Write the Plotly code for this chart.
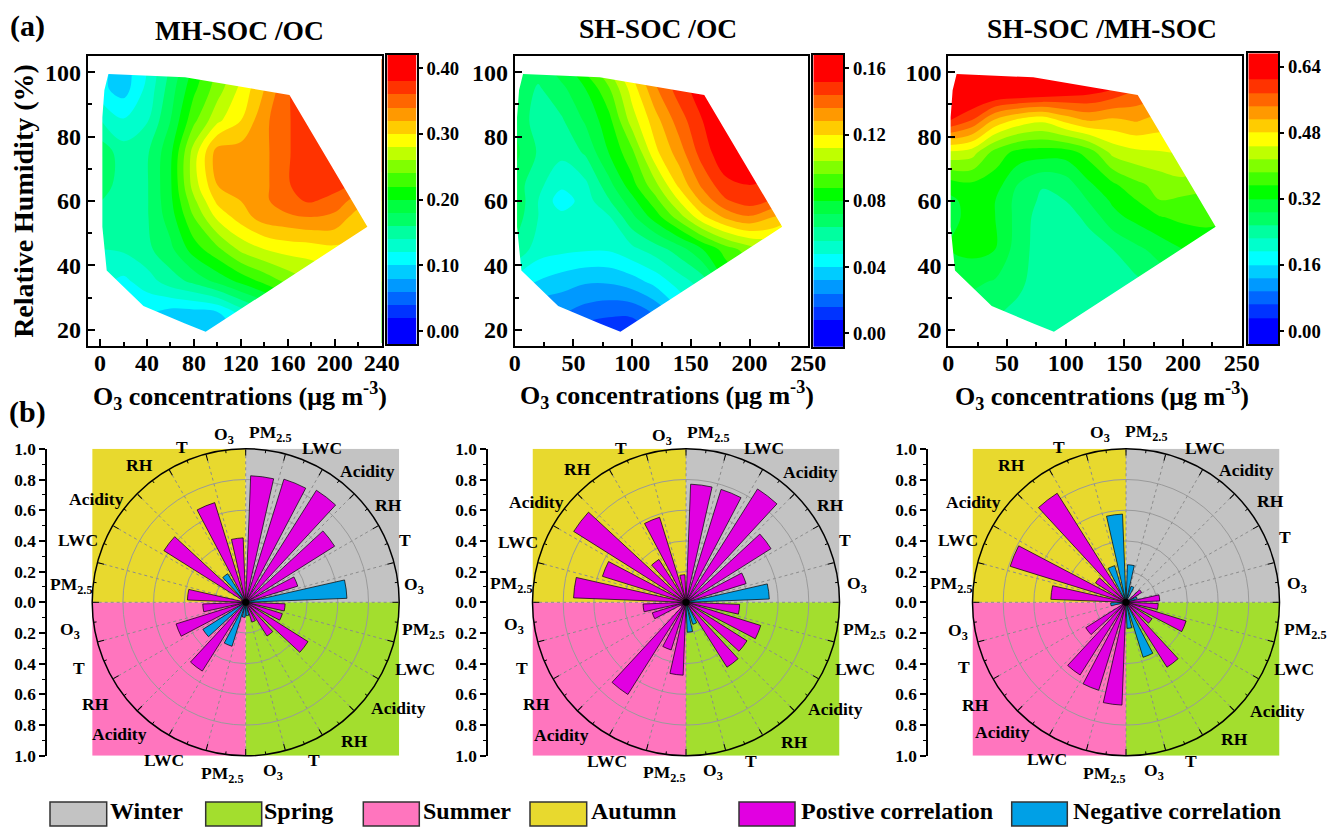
import plotly.graph_objects as go

W, H = 1328, 827
FONT = "Liberation Serif"

# ---------- contour data (panel a) ----------
O3_GRID = [1, 20, 40, 60, 80, 100, 120, 140, 160, 180, 200, 220, 240]
RH_GRID = [16, 25, 35, 45, 55, 60, 65, 75, 85, 95, 104]
MH_OC = [
    [.10, .09, .09, .08, .075, .08, .10, .13, .16, .19, .21, .23, .24],
    [.11, .10, .10, .09, .09, .095, .125, .15, .18, .21, .23, .25, .26],
    [.125, .115, .13, .15, .165, .185, .205, .225, .245, .26, .27, .28, .28],
    [.14, .143, .155, .175, .21, .235, .265, .28, .288, .29, .295, .295, .295],
    [.15, .148, .158, .19, .24, .285, .31, .33, .335, .34, .335, .31, .30],
    [.16, .15, .158, .195, .255, .305, .32, .335, .356, .362, .352, .33, .32],
    [.17, .15, .158, .197, .27, .32, .325, .335, .358, .375, .368, .355, .35],
    [.172, .15, .157, .195, .27, .33, .33, .335, .358, .375, .375, .375, .375],
    [.14, .122, .138, .18, .235, .275, .30, .335, .358, .375, .375, .375, .375],
    [.105, .09, .125, .17, .215, .25, .285, .32, .358, .375, .375, .375, .375],
    [.11, .09, .12, .16, .20, .24, .27, .31, .35, .375, .375, .375, .375],
]
SH_OC = [
    [.02, .015, .01, .006, .005, .006, .015, .03, .04, .055, .065, .075, .08],
    [.03, .025, .024, .02, .0175, .0175, .025, .038, .05, .065, .075, .085, .09],
    [.045, .0395, .036, .033, .033, .0365, .043, .052, .06, .08, .09, .10, .10],
    [.062, .052, .05, .049, .049, .054, .06, .068, .08, .092, .10, .105, .11],
    [.068, .056, .051, .05, .055, .07, .084, .10, .118, .13, .135, .128, .12],
    [.07, .056, .043, .052, .063, .077, .093, .112, .13, .143, .148, .143, .14],
    [.068, .058, .05, .054, .069, .085, .102, .122, .138, .15, .152, .15, .15],
    [.074, .063, .058, .065, .08, .094, .118, .132, .148, .158, .16, .16, .16],
    [.07, .06, .063, .073, .085, .108, .125, .14, .152, .158, .165, .165, .165],
    [.07, .063, .07, .08, .095, .116, .135, .148, .157, .165, .165, .165, .165],
    [.072, .07, .08, .095, .11, .125, .14, .15, .16, .165, .165, .165, .165],
]
SH_MH = [
    [.27, .26, .25, .24, .23, .23, .23, .23, .235, .24, .25, .25, .25],
    [.28, .27, .26, .245, .235, .23, .235, .235, .24, .25, .26, .27, .27],
    [.30, .295, .285, .265, .235, .23, .235, .24, .25, .27, .29, .30, .30],
    [.32, .33, .32, .27, .24, .235, .238, .256, .28, .30, .32, .335, .335],
    [.31, .33, .32, .275, .24, .24, .266, .31, .33, .35, .36, .36, .355],
    [.31, .335, .32, .275, .25, .256, .29, .325, .35, .383, .375, .37, .365],
    [.335, .345, .335, .285, .258, .27, .314, .345, .375, .395, .405, .395, .39],
    [.44, .43, .37, .34, .335, .335, .365, .425, .44, .445, .45, .43, .42],
    [.61, .575, .505, .47, .455, .49, .515, .505, .515, .50, .50, .49, .48],
    [.66, .67, .67, .67, .665, .645, .63, .61, .58, .56, .54, .53, .52],
    [.66, .67, .67, .68, .68, .68, .66, .66, .62, .60, .56, .55, .55],
]
# outline of the sampled O3 / RH domain
DOMAIN_O3 = [7.1, 72.4, 161.4, 227.8, 90, 72.4, 37, 5.7, 2, 2, 3.7]
DOMAIN_RH = [99.4, 98.4, 92.9, 52, 19.4, 22, 27.4, 38.4, 52, 86, 94.4]

TITLES = ["MH-SOC /OC", "SH-SOC /OC", "SH-SOC /MH-SOC"]
CBAR_STEP = [0.02, 0.008, 0.032]
CBAR_TICKS = [[0, .1, .2, .3, .4], [0, .04, .08, .12, .16], [0, .16, .32, .48, .64]]
X_TICK_STEP = [40, 50, 50]
X_TITLE = "O<sub>3</sub> concentrations (μg m<sup>-3</sup>)"
Y_TITLE = "Relative Humidity (%)"
BAND_COLORS = ["#0000FF", "#0033FF", "#0066FF", "#0099FF", "#00CCFF", "#00FFFF", "#00FFCC",
               "#00FFA0", "#00FF66", "#00FF40", "#00FF00", "#40FF00", "#80FF00", "#BFFF00",
               "#FFFF00", "#FFCC00", "#FF9900", "#FF6600", "#FF3300", "#FF0000"]

# ---------- correlation data (panel b): sign = direction of the correlation ----------
SEASONS = ["Winter", "Spring", "Summer", "Autumn"]
SEASON_COLORS = ["#C3C3C3", "#A3DE2E", "#FF75BE", "#E8D92E"]
FACTORS = ["PM<sub>2.5</sub>", "LWC", "Acidity", "RH", "T", "O<sub>3</sub>"]
CORR_MH_OC = [.825, .84, .863, .685, .355, -.66,
              .257, .25, .48, .26, .135, -.087,
              -.098, -.30, .53, -.33, .475, .28,
              .38, .03, .63, -.22, .68, .42]
CORR_SH_OC = [.77, .77, .873, .655, .41, -.543,
              .35, .51, .47, .50, -.15, -.195,
              .475, .325, .71, .04, .23, .28,
              .733, .57, .865, .33, .58, .18]
CORR_SH_MH = [-.245, -.11, .02, .12, -.076, .22,
              .21, .41, .20, .50, -.375, -.17,
              .67, .60, .56, .31, .03, -.10,
              .49, .79, .235, .84, -.25, -.575]
POS_COLOR, NEG_COLOR = "#E100E1", "#00A0E6"
RADIAL_TICKS = [-1, -.8, -.6, -.4, -.2, 0, .2, .4, .6, .8, 1]

# ---------- layout in pixels ----------
FRAMES = [(87.7, 381.7), (514.7, 808.3), (948.3, 1241.7)]
FRAME_Y = (56, 346)
X_RANGES = [[-10.5, 240], [0, 250], [0, 250]]
CBAR_BOX = [(387.3, 416.7, 55, 344.3), (813.3, 843.3, 55, 346.7), (1248.3, 1278.3, 53.3, 344.3)]
TITLE_XY = [(239, 30.7), (658, 28), (1101.7, 29)]
XTITLE_XY = [(240, 396), (667, 395), (1102, 396)]
POLAR_CX = [245.7, 686, 1126]
POLAR_CY, POLAR_R = 602.3, 153.5
LEFT_AXIS_X = [46, 487, 927]
LABEL_XY = [
    [(270.7, 433), (321.7, 448), (367, 471), (388, 505), (404.7, 540), (414, 585.7),
     (424, 630), (415, 668.7), (398, 707.7), (354, 740.7), (314, 760), (273, 771),
     (222, 774), (164, 760), (119, 734), (95, 704), (79, 668), (70, 630),
     (71, 585.7), (78, 540), (96, 499), (139, 465), (182, 447), (224, 436)],
    [(708.7, 433), (763.7, 448), (810, 471.7), (830, 505), (844.7, 540), (856.7, 584),
     (864, 630), (855, 668.7), (835.7, 709), (794, 742), (750.7, 761), (713, 771),
     (664, 773), (607, 760.7), (561, 735), (536, 704), (522, 668), (514, 625),
     (511, 584), (518, 542), (536, 502), (577, 469), (620.7, 448), (662, 436.7)],
    [(1146, 432), (1204.7, 447.7), (1246, 470), (1270, 501), (1284.7, 536.7), (1297, 584),
     (1305.7, 630), (1294.3, 668.7), (1277.7, 710.7), (1234, 739), (1190.7, 761), (1153.7, 771),
     (1104, 774), (1047, 758.7), (1003, 732), (975.7, 705), (964, 667), (957.7, 631),
     (951, 584), (958, 540), (973, 501.7), (1011, 465), (1059, 447), (1100, 433)],
]
LEGEND_ITEMS = [("Winter", SEASON_COLORS[0], 50, 106.7, 108), ("Spring", SEASON_COLORS[1], 205.7, 261.7, 262),
                ("Summer", SEASON_COLORS[2], 363.3, 419.3, 421), ("Autumn", SEASON_COLORS[3], 530, 586.7, 589),
                ("Postive correlation", POS_COLOR, 739, 795, 798.7),
                ("Negative correlation", NEG_COLOR, 1011.7, 1067.3, 1070.7)]


def px(v):
    return v / W


def py(v):
    return 1 - v / H


def bfont(size, color="black"):
    return dict(family=FONT, size=size, color=color, weight="bold")


def anno(text, x, y, size, xanchor="center"):
    return dict(text=text, x=px(x), y=py(y), xref="paper", yref="paper", xanchor=xanchor, yanchor="middle",
                showarrow=False, font=bfont(size))


fig = go.Figure()
layout = {}
shapes, annos = [], []
n_band = len(BAND_COLORS)
scale = [[k / (n_band - 1), c] for k, c in enumerate(BAND_COLORS)]

# ---------- top row ----------
for i, (z, step) in enumerate(zip([MH_OC, SH_OC, SH_MH], CBAR_STEP)):
    n = i + 1
    xa, ya = f"xaxis{n}", f"yaxis{n}"
    xr, yr = f"x{n}", f"y{n}"
    fig.add_trace(go.Contour(
        x=O3_GRID, y=RH_GRID, z=z, xaxis=xr, yaxis=yr, colorscale=scale, showscale=False,
        autocontour=False, contours=dict(start=step, end=step * (n_band - 1), size=step,
                                         coloring="fill", showlines=False),
        line=dict(width=0, smoothing=1), hoverinfo="skip"))
    rng = X_RANGES[i]
    # white mask around the sampled domain: outer box, then the domain outline in the opposite sense
    mask_x = [rng[0], rng[1], rng[1], rng[0], rng[0]] + DOMAIN_O3 + DOMAIN_O3[:1]
    mask_y = [15, 15, 105, 105, 15] + DOMAIN_RH + DOMAIN_RH[:1]
    fig.add_trace(go.Scatter(x=mask_x, y=mask_y, xaxis=xr, yaxis=yr, mode="none", fill="toself",
                             fillcolor="white", hoverinfo="skip", showlegend=False))
    layout[xa] = dict(domain=[px(FRAMES[i][0]), px(FRAMES[i][1])], range=rng, anchor=yr, automargin=False,
                      tickmode="linear", tick0=0, dtick=X_TICK_STEP[i], ticks="inside", ticklen=7, tickwidth=1.5,
                      tickcolor="black", ticklabelstandoff=-6,
                      minor=dict(ticks="inside", ticklen=4, tickwidth=1.5, dtick=X_TICK_STEP[i] / 2, tick0=0, tickcolor="black"),
                      showgrid=False, zeroline=False, showline=True, linecolor="black", linewidth=2, mirror=True,
                      tickfont=bfont(24))
    layout[ya] = dict(domain=[py(FRAME_Y[1]), py(FRAME_Y[0])], range=[15, 105], anchor=xr, automargin=False,
                      tickmode="linear", tick0=0, dtick=20, ticks="inside", ticklen=7, tickwidth=1.5,
                      tickcolor="black",
                      minor=dict(ticks="inside", ticklen=4, tickwidth=1.5, dtick=10, tick0=0, tickcolor="black"),
                      showgrid=False, zeroline=False, showline=True, linecolor="black", linewidth=2, mirror=True,
                      tickfont=bfont(24))
    if i == 0:
        layout[ya]["title"] = dict(text=Y_TITLE, font=bfont(28), standoff=3)
    annos.append(anno(TITLES[i], TITLE_XY[i][0], TITLE_XY[i][1], 27.5))
    annos.append(anno(X_TITLE, XTITLE_XY[i][0], XTITLE_XY[i][1], 26))

    # colour bar drawn as a heatmap on its own axes
    n = i + 4
    xr, yr = f"x{n}", f"y{n}"
    edges = [-step] + [step * k for k in range(1, n_band)] + [step * (n_band + 1)]
    box = CBAR_BOX[i]
    fig.add_trace(go.Heatmap(x=[0, 1], y=edges, z=[[k] for k in range(n_band)], colorscale=scale,
                             zmin=0, zmax=n_band - 1, showscale=False, xaxis=xr, yaxis=yr, hoverinfo="skip"))
    layout[f"xaxis{n}"] = dict(domain=[px(box[0]), px(box[1])], range=[0, 1], anchor=yr, showticklabels=False,
                               automargin=False, ticks="", showgrid=False, zeroline=False, showline=True,
                               linecolor="black", linewidth=2, mirror=True)
    layout[f"yaxis{n}"] = dict(domain=[py(box[3]), py(box[2])], range=[edges[0], edges[-1]], anchor=xr, side="right",
                               automargin=False, tickmode="array", tickvals=CBAR_TICKS[i], tickformat=".2f",
                               ticks="outside", ticklen=4, tickwidth=1.5, tickcolor="black", showgrid=False,
                               zeroline=False, showline=True, linecolor="black", linewidth=2, mirror=True,
                               tickfont=bfont(18.7))

# ---------- bottom row ----------
for i, corr in enumerate([CORR_MH_OC, CORR_SH_OC, CORR_SH_MH]):
    n = i + 7
    xr, yr = f"x{n}", f"y{n}"
    cx = POLAR_CX[i]
    x0, x1 = cx - POLAR_R, cx + POLAR_R
    y0, y1 = POLAR_CY - POLAR_R, POLAR_CY + POLAR_R
    layout[f"xaxis{n}"] = dict(domain=[px(x0), px(x1)], range=[-1, 1], anchor=yr, visible=False,
                               automargin=False, fixedrange=True)
    layout[f"yaxis{n}"] = dict(domain=[py(y1), py(y0)], range=[-1, 1], anchor="free", position=px(LEFT_AXIS_X[i]),
                               automargin=False, tickmode="array", tickvals=RADIAL_TICKS,
                               ticktext=[f"{abs(t):.1f}" for t in RADIAL_TICKS],
                               ticks="outside", ticklen=6, tickwidth=1.5, tickcolor="black",
                               minor=dict(ticks="outside", ticklen=3, tickwidth=1, dtick=0.1, tick0=0, tickcolor="black"),
                               showgrid=False, zeroline=False, showline=True, linecolor="black", linewidth=1.5,
                               tickfont=bfont(17.3))
    quads = [(0, 1, 0, 1), (0, 1, -1, 0), (-1, 0, -1, 0), (-1, 0, 0, 1)]
    for (qx0, qx1, qy0, qy1), col in zip(quads, SEASON_COLORS):
        shapes.append(dict(type="rect", x0=qx0, x1=qx1, y0=qy0, y1=qy1, xref=xr, yref=yr, layer="below",
                           fillcolor=col, line=dict(width=0)))

    pname = "polar" if i == 0 else f"polar{i + 1}"
    theta = [7.5 + 15 * k for k in range(24)]
    pos = [(t, v) for t, v in zip(theta, corr) if v > 0]
    neg = [(t, -v) for t, v in zip(theta, corr) if v < 0]
    for pairs, col, name in [(pos, POS_COLOR, "Positive"), (neg, NEG_COLOR, "Negative")]:
        fig.add_trace(go.Barpolar(theta=[p[0] for p in pairs], r=[p[1] for p in pairs], width=10.5, subplot=pname,
                                  marker=dict(color=col, line=dict(color="black", width=0.7)), name=name,
                                  showlegend=False, hoverinfo="theta+r"))
    # minor ticks on the outer circle, plus the hub
    tick_r, tick_t = [], []
    for t in theta:
        tick_r += [1, 0.98, None]
        tick_t += [t, t, None]
    fig.add_trace(go.Scatterpolar(r=tick_r, theta=tick_t, mode="lines", line=dict(color="black", width=1),
                                  subplot=pname, showlegend=False, hoverinfo="skip"))
    fig.add_trace(go.Scatterpolar(r=[0], theta=[0], mode="markers", marker=dict(color="black", size=7),
                                  subplot=pname, showlegend=False, hoverinfo="skip"))
    layout[pname] = dict(
        domain=dict(x=[px(x0), px(x1)], y=[py(y1), py(y0)]), bgcolor="rgba(0,0,0,0)",
        angularaxis=dict(rotation=90, direction="clockwise", tickmode="linear", tick0=0, dtick=15,
                         ticks="inside", ticklen=6, tickwidth=1, tickcolor="black", showticklabels=False,
                         showgrid=True, gridcolor="#8C8C8C", griddash="dot", gridwidth=1,
                         showline=True, linecolor="black", linewidth=1.5),
        radialaxis=dict(range=[0, 1], tickmode="linear", tick0=0, dtick=0.2, showticklabels=False, ticks="",
                        showline=False, showgrid=True, gridcolor="#9A9A9A", griddash="solid", gridwidth=1, angle=90))
    for k, (lx, ly) in enumerate(LABEL_XY[i]):
        annos.append(anno(FACTORS[k % 6], lx, ly, 17.5))

# ---------- panel tags and legend ----------
annos.append(anno("(a)", 27, 26, 30))
annos.append(anno("(b)", 27, 412, 30))
for label, col, a, b, tx in LEGEND_ITEMS:
    shapes.append(dict(type="rect", x0=px(a), x1=px(b), y0=py(826), y1=py(802), xref="paper", yref="paper",
                       fillcolor=col, line=dict(color="#333333", width=1.5)))
    annos.append(anno(label, tx, 811, 24, xanchor="left"))

fig.update_layout(width=W, height=H, margin=dict(l=0, r=0, t=0, b=0, autoexpand=False), paper_bgcolor="white",
                  plot_bgcolor="white", showlegend=False, shapes=shapes, annotations=annos, **layout)
fig.write_html("out.html", config={"displayModeBar": False}, post_script="document.body.style.margin='0';")
